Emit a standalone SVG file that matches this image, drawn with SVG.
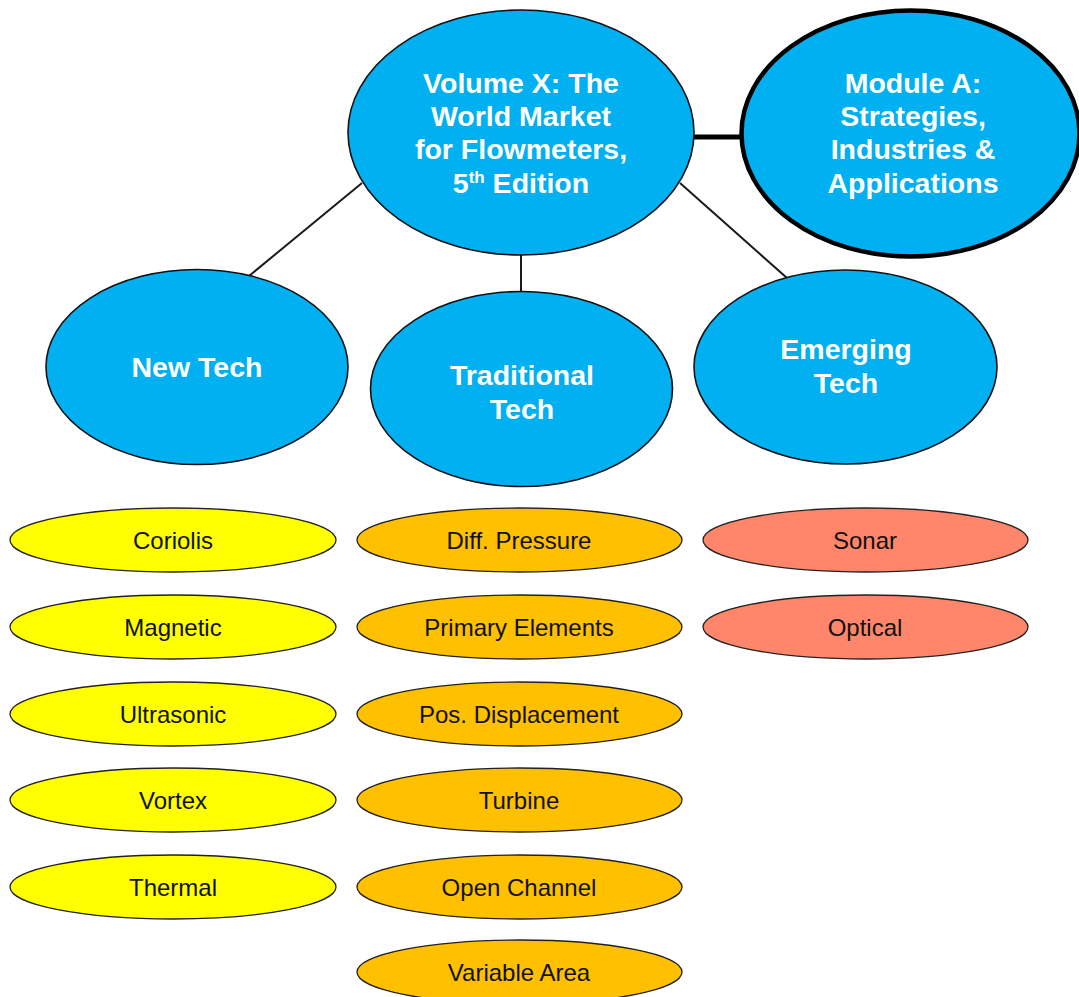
<svg xmlns="http://www.w3.org/2000/svg" width="1079" height="997" viewBox="0 0 1079 997">
<style>
.big{fill:#00B0F0;stroke:#111;stroke-width:1.6}
.bt{font-family:"Liberation Sans",Arial,sans-serif;font-weight:bold;font-size:28.5px;fill:#fff;text-anchor:middle}
.sm{stroke:#222;stroke-width:1.3}
.y{fill:#FFFF00}.o{fill:#FFC000}.r{fill:#FF866A}
.st{font-family:"Liberation Sans",Arial,sans-serif;font-size:24px;fill:#111;text-anchor:middle}
.ln{stroke:#1a1a1a;stroke-width:2;fill:none}
</style>
<rect width="1079" height="997" fill="#fff"/>
<g id="connectors">
<line class="ln" x1="362" y1="183" x2="249" y2="276"/>
<line class="ln" x1="521" y1="255" x2="521" y2="292"/>
<line class="ln" x1="680" y1="183" x2="787" y2="278"/>
<line x1="694" y1="137" x2="742" y2="137" stroke="#000" stroke-width="5"/>
</g>
<g id="volume">
<ellipse class="big" cx="521" cy="132.5" rx="173" ry="122.5"/>
<text class="bt"><tspan x="521" y="93">Volume X: The</tspan><tspan x="521" y="126">World Market</tspan><tspan x="521" y="159">for Flowmeters,</tspan><tspan x="521" y="193">5<tspan font-size="17" dy="-10">th</tspan><tspan dy="10"> Edition</tspan></tspan></text>
</g>
<g id="moduleA">
<ellipse cx="910.5" cy="133.5" rx="169" ry="123" fill="#00B0F0" stroke="#000" stroke-width="4.5"/>
<text class="bt"><tspan x="913" y="93">Module A:</tspan><tspan x="913" y="126">Strategies,</tspan><tspan x="913" y="159">Industries &amp;</tspan><tspan x="913" y="193">Applications</tspan></text>
</g>
<g id="newtech">
<ellipse class="big" cx="197" cy="367" rx="151" ry="97.5"/>
<text class="bt" x="197" y="377">New Tech</text>
</g>
<g id="traditional">
<ellipse class="big" cx="521.5" cy="389" rx="151" ry="97.5"/>
<text class="bt"><tspan x="522" y="385">Traditional</tspan><tspan x="522" y="419">Tech</tspan></text>
</g>
<g id="emerging">
<ellipse class="big" cx="845.5" cy="367" rx="151.5" ry="97"/>
<text class="bt"><tspan x="846" y="359">Emerging</tspan><tspan x="846" y="393">Tech</tspan></text>
</g>
<g id="coriolis"><ellipse class="sm y" cx="173" cy="540" rx="163" ry="32"/><text class="st" x="173" y="548.5">Coriolis</text></g>
<g id="magnetic"><ellipse class="sm y" cx="173" cy="627" rx="163" ry="32"/><text class="st" x="173" y="635.5">Magnetic</text></g>
<g id="ultrasonic"><ellipse class="sm y" cx="173" cy="714" rx="163" ry="32"/><text class="st" x="173" y="722.5">Ultrasonic</text></g>
<g id="vortex"><ellipse class="sm y" cx="173" cy="800" rx="163" ry="32"/><text class="st" x="173" y="808.5">Vortex</text></g>
<g id="thermal"><ellipse class="sm y" cx="173" cy="887" rx="163" ry="32"/><text class="st" x="173" y="895.5">Thermal</text></g>
<g id="diffpressure"><ellipse class="sm o" cx="519.5" cy="540" rx="162.5" ry="32"/><text class="st" x="519" y="548.5">Diff. Pressure</text></g>
<g id="primary"><ellipse class="sm o" cx="519.5" cy="627" rx="162.5" ry="32"/><text class="st" x="519" y="635.5">Primary Elements</text></g>
<g id="posdisp"><ellipse class="sm o" cx="519.5" cy="714" rx="162.5" ry="32"/><text class="st" x="519" y="722.5">Pos. Displacement</text></g>
<g id="turbine"><ellipse class="sm o" cx="519.5" cy="800" rx="162.5" ry="32"/><text class="st" x="519" y="808.5">Turbine</text></g>
<g id="openchannel"><ellipse class="sm o" cx="519.5" cy="887" rx="162.5" ry="32"/><text class="st" x="519" y="895.5">Open Channel</text></g>
<g id="variablearea"><ellipse class="sm o" cx="519.5" cy="972" rx="162.5" ry="32"/><text class="st" x="519" y="980.5">Variable Area</text></g>
<g id="sonar"><ellipse class="sm r" cx="865.5" cy="540" rx="162.5" ry="32"/><text class="st" x="865" y="548.5">Sonar</text></g>
<g id="optical"><ellipse class="sm r" cx="865.5" cy="627" rx="162.5" ry="32"/><text class="st" x="865" y="635.5">Optical</text></g>
</svg>
